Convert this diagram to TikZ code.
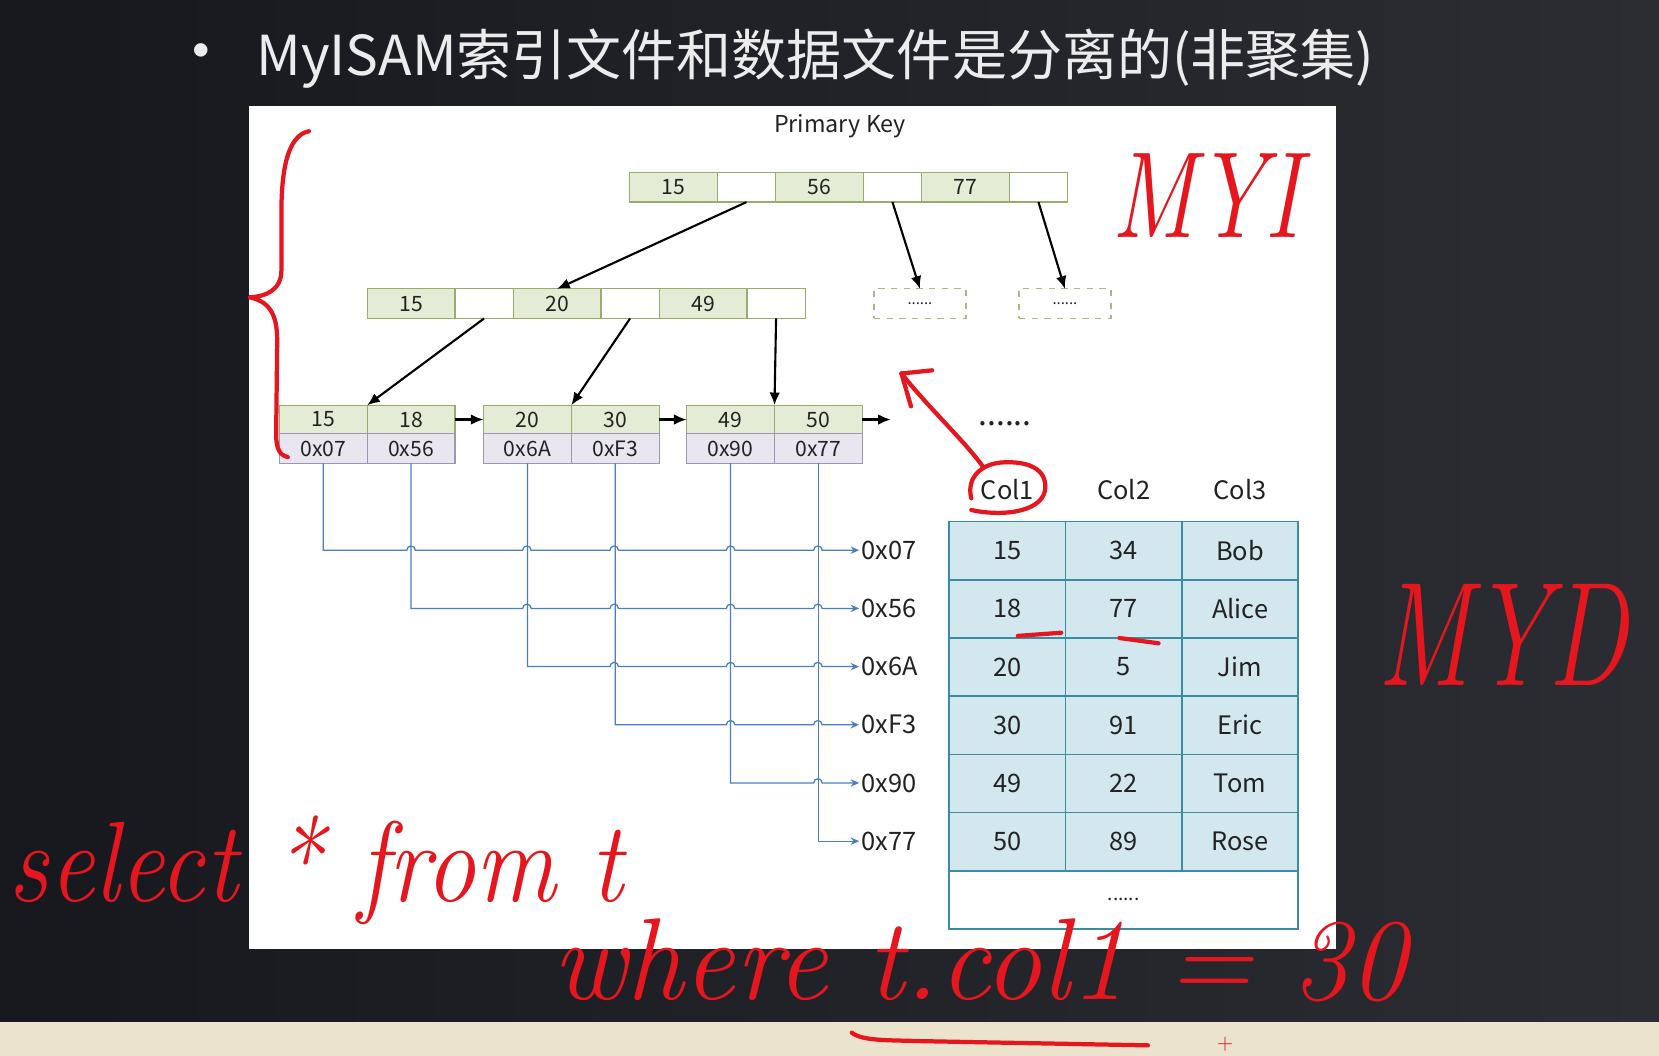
\documentclass[tikz,border=0pt]{standalone}
\usepackage{fontspec}
\newfontfamily\cjk{Noto Sans CJK SC}
\usetikzlibrary{arrows.meta}

\definecolor{bgL}{HTML}{17181D}
\definecolor{bgR}{HTML}{2C2D33}
\definecolor{stripcol}{HTML}{EBE3CC}
\definecolor{titlecol}{HTML}{ECECEC}
\definecolor{keyfill}{HTML}{E5ECD5}
\definecolor{keyline}{HTML}{98AD6A}
\definecolor{addrfill}{HTML}{E9E6F0}
\definecolor{addrline}{HTML}{9A97B5}
\definecolor{dashline}{HTML}{A9B58A}
\definecolor{tblfill}{HTML}{D2E8EE}
\definecolor{tblline}{HTML}{3A8CA3}
\definecolor{linkblue}{HTML}{4A7EBF}
\definecolor{ink}{HTML}{E5161D}
\definecolor{txt}{HTML}{222222}

\begin{document}
\begin{tikzpicture}[x=0.5pt,y=-0.5pt,
  cellbase/.style={draw, rectangle, line width=0.6pt, inner sep=0pt, outer sep=0pt,
    text=txt, font=\cjk\fontsize{10}{12}\selectfont},
  keycell/.style={cellbase, draw=keyline, fill=keyfill, minimum width=41.5pt, minimum height=14pt},
  ptrcell/.style={cellbase, draw=keyline, fill=white, minimum width=27.5pt, minimum height=14pt},
  leafkey/.style={cellbase, draw=keyline, fill=keyfill, minimum width=41.5pt, minimum height=13.5pt},
  addrcell/.style={cellbase, draw=addrline, fill=addrfill, minimum width=41.5pt, minimum height=14pt},
  morebox/.style={cellbase, draw=dashline, dashed, fill=white, minimum width=43.5pt, minimum height=14pt,
    font=\cjk\fontsize{7}{8}\selectfont},
  tcell/.style={draw=tblline, fill=tblfill, line width=0.8pt, rectangle, inner sep=0pt, outer sep=0pt,
    minimum width=55pt, minimum height=27.5pt, text=txt, font=\cjk\fontsize{12}{14}\selectfont},
  colhead/.style={text=txt, font=\cjk\fontsize{12}{14}\selectfont},
  addrlabel/.style={anchor=west, inner xsep=1pt, text=txt, font=\cjk\fontsize{12}{14}\selectfont},
  treearrow/.style={line width=1pt, -{Latex[length=6pt,width=5pt]}},
  blueline/.style={draw=linkblue, line width=0.6pt, -{Stealth[length=4pt,width=3.5pt]}},
  redink/.style={draw=ink, line width=2pt, line cap=round, line join=round},
  hand/.style={text=ink, inner sep=0pt, font=\normalfont\itshape}
]
\useasboundingbox (0,0) rectangle (1568,998);

% slide background, task bar strip and the white figure panel
\shade[left color=bgL, right color=bgR] (0,0) rectangle (1568,966);
\fill[stripcol] (0,966) rectangle (1568,998);
\fill[white] (235,100) rectangle (1263,897);

% slide title
\node[text=titlecol, font=\cjk\fontsize{30}{32}\selectfont] (bullet) at (190,56) {•};
\node[anchor=west, inner sep=0pt, text=titlecol, font=\cjk\fontsize{26}{30}\selectfont] (title) at (242,55)
  {MyISAM索引文件和数据文件是分离的(非聚集)};

\node[text=txt, font=\cjk\fontsize{11}{13}\selectfont] (pk) at (794,119) {Primary Key};

% root node
\node[keycell, anchor=west] (r1) at (595,177) {15};
\node[ptrcell, anchor=west] (rp1) at (r1.east) {};
\node[keycell, anchor=west] (r2) at (rp1.east) {56};
\node[ptrcell, anchor=west] (rp2) at (r2.east) {};
\node[keycell, anchor=west] (r3) at (rp2.east) {77};
\node[ptrcell, anchor=west] (rp3) at (r3.east) {};

% inner node
\node[keycell, anchor=west] (m1) at (347,287) {15};
\node[ptrcell, anchor=west] (mp1) at (m1.east) {};
\node[keycell, anchor=west] (m2) at (mp1.east) {20};
\node[ptrcell, anchor=west] (mp2) at (m2.east) {};
\node[keycell, anchor=west] (m3) at (mp2.east) {49};
\node[ptrcell, anchor=west] (mp3) at (m3.east) {};

% sibling subtrees not expanded
\node[morebox] (db1) at (869.5,287) {......};
\node[morebox] (db2) at (1006.5,287) {......};

% leaf nodes: keys on top, row addresses below
\node[leafkey, anchor=west] (l1a) at (264,396.5) {15};
\node[leafkey, anchor=west] (l1b) at (l1a.east) {18};
\node[addrcell, anchor=north] (l1x) at (l1a.south) {0x07};
\node[addrcell, anchor=north] (l1y) at (l1b.south) {0x56};

\node[leafkey, anchor=west] (l2a) at (457,396.5) {20};
\node[leafkey, anchor=west] (l2b) at (l2a.east) {30};
\node[addrcell, anchor=north] (l2x) at (l2a.south) {0x6A};
\node[addrcell, anchor=north] (l2y) at (l2b.south) {0xF3};

\node[leafkey, anchor=west] (l3a) at (649,396.5) {49};
\node[leafkey, anchor=west] (l3b) at (l3a.east) {50};
\node[addrcell, anchor=north] (l3x) at (l3a.south) {0x90};
\node[addrcell, anchor=north] (l3y) at (l3b.south) {0x77};

\coordinate (lnext) at (842,396.5);
\node[text=txt, font=\cjk\fontsize{15}{16}\selectfont] (ldots) at (950,400) {......};

% tree pointers
\draw[treearrow] (rp1.south) -- (m2.north);
\draw[treearrow] (rp2.south) -- (db1.north);
\draw[treearrow] (rp3.south) -- (db2.north);
\draw[treearrow] (mp1.south) -- (l1a.north east);
\draw[treearrow] (mp2.south) -- (l2a.north east);
\draw[treearrow] (mp3.south) -- (l3a.north east);
\draw[treearrow] (l1b.east) -- (l2a.west);
\draw[treearrow] (l2b.east) -- (l3a.west);
\draw[treearrow] (l3b.east) -- (lnext);

% row addresses in the data file
\node[addrlabel] (p1) at (812,520) {0x07};
\node[addrlabel] (p2) at (812,575) {0x56};
\node[addrlabel] (p3) at (812,630) {0x6A};
\node[addrlabel] (p4) at (812,685) {0xF3};
\node[addrlabel] (p5) at (812,740) {0x90};
\node[addrlabel] (p6) at (812,795) {0x77};

% address links, hopping over the vertical lines they cross
\draw[blueline] (l1x.south) -- (l1x.south |- p1.west)
  \foreach \c in {388.5,498,580.5,690.5,773} { -- ({\c-4},520) arc[start angle=180,end angle=0,radius=2pt] }
  -- (p1.west);
\draw[blueline] (l1y.south) -- (l1y.south |- p2.west)
  \foreach \c in {498,580.5,690.5,773} { -- ({\c-4},575) arc[start angle=180,end angle=0,radius=2pt] }
  -- (p2.west);
\draw[blueline] (l2x.south) -- (l2x.south |- p3.west)
  \foreach \c in {580.5,690.5,773} { -- ({\c-4},630) arc[start angle=180,end angle=0,radius=2pt] }
  -- (p3.west);
\draw[blueline] (l2y.south) -- (l2y.south |- p4.west)
  \foreach \c in {690.5,773} { -- ({\c-4},685) arc[start angle=180,end angle=0,radius=2pt] }
  -- (p4.west);
\draw[blueline] (l3x.south) -- (l3x.south |- p5.west)
  -- (769,740) arc[start angle=180,end angle=0,radius=2pt] -- (p5.west);
\draw[blueline] (l3y.south) -- (l3y.south |- p6.west) -- (p6.west);

% data table
\node[colhead] (h1) at (952,463) {Col1};
\node[colhead] (h2) at (1062,463) {Col2};
\node[colhead] (h3) at (1172,463) {Col3};

\node[tcell] (t11) at (952,520.5) {15};  \node[tcell] (t12) at (1062,520.5) {34}; \node[tcell] (t13) at (1172,520.5) {Bob};
\node[tcell] (t21) at (952,575.5) {18};  \node[tcell] (t22) at (1062,575.5) {77}; \node[tcell] (t23) at (1172,575.5) {Alice};
\node[tcell] (t31) at (952,630.5) {20};  \node[tcell] (t32) at (1062,630.5) {5};  \node[tcell] (t33) at (1172,630.5) {Jim};
\node[tcell] (t41) at (952,685.5) {30};  \node[tcell] (t42) at (1062,685.5) {91}; \node[tcell] (t43) at (1172,685.5) {Eric};
\node[tcell] (t51) at (952,740.5) {49};  \node[tcell] (t52) at (1062,740.5) {22}; \node[tcell] (t53) at (1172,740.5) {Tom};
\node[tcell] (t61) at (952,795.5) {50};  \node[tcell] (t62) at (1062,795.5) {89}; \node[tcell] (t63) at (1172,795.5) {Rose};
\node[tcell, fill=white, minimum width=165pt, font=\cjk\fontsize{9}{10}\selectfont] (tdots) at (1062,850.5) {......};

% red pen notes
\draw[redink] (292,124) .. controls (272,128) and (266,160) .. (266,200) -- (266,255)
  .. controls (266,274) and (252,280) .. (236,281)
  .. controls (254,285) and (262,296) .. (262,322) -- (261,410)
  .. controls (261,424) and (264,430) .. (272,432);

\coordinate (penstart) at (929,441);
\coordinate (pentip) at (852,353);
\draw[redink] (penstart) .. controls (910,415) and (880,388) .. (pentip);
\draw[redink] (pentip) -- (881,350);
\draw[redink] (pentip) -- (861,384);
\draw[redink] (918,482) .. controls (950,489) and (988,483) .. (988,460)
  .. controls (988,440) and (966,436) .. (948,437)
  .. controls (928,438) and (913,451) .. (918,471);
\draw[redink] (962,601) -- (1003,598);
\draw[redink] (1058,603) -- (1095,608);

\node[hand, anchor=base, font=\normalfont\itshape\fontsize{58}{60}\selectfont, xscale=0.78] (myi) at (1140,224) {MYI};
\node[hand, anchor=base, font=\normalfont\itshape\fontsize{70}{72}\selectfont, xscale=0.72] (myd) at (1420,648) {MYD};
\node[hand, anchor=base west, font=\normalfont\itshape\fontsize{54}{56}\selectfont, xscale=0.88] (sel) at (8,852) {select * from t};
\node[hand, anchor=base west, font=\normalfont\itshape\fontsize{55}{57}\selectfont, xscale=0.98] (whr) at (522,945) {where t.col1 = 30};
\draw[redink] (805,976) .. controls (815,984) and (840,983) .. (870,984) -- (1085,988);
\node[hand, font=\normalfont\fontsize{10}{10}\selectfont] (cursor) at (1158,987) {+};
\end{tikzpicture}
\end{document}
